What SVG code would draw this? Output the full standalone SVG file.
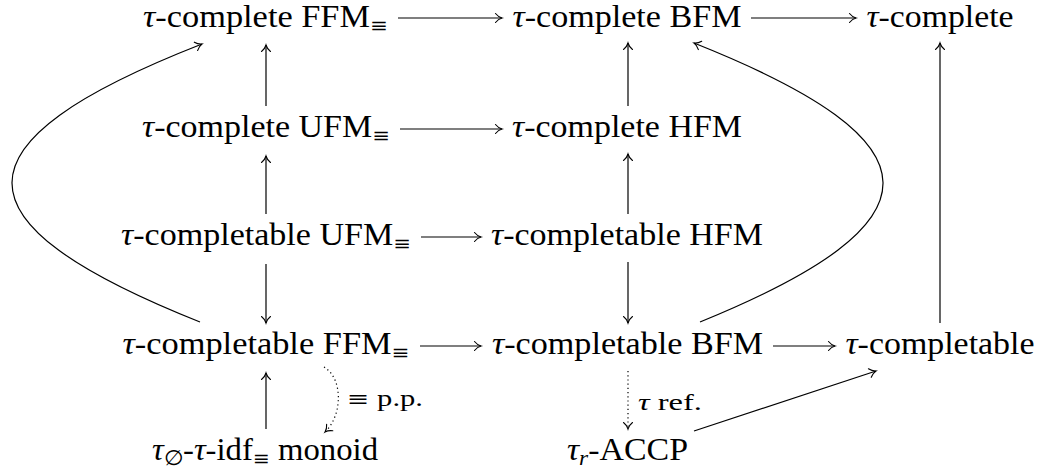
<svg xmlns="http://www.w3.org/2000/svg" width="1041" height="472" viewBox="0 0 1041 472">
<style>
.n{font-family:"Liberation Serif","DejaVu Serif",serif;font-size:30.5px;fill:#000}
.lbl{font-size:24px}
.it{font-style:italic}
.sub{font-size:21px}
.eq{font-family:"DejaVu Serif",serif;font-size:19px}
.c{fill:none;stroke:#000;stroke-width:1.2;marker-end:url(#ah)}
.dot{stroke-dasharray:1.2 3}
</style>
<defs>
<marker id="ah" markerUnits="userSpaceOnUse" viewBox="-8 -6 10 12" refX="0" refY="0" markerWidth="10" markerHeight="12" orient="auto" overflow="visible">
<path d="M-6.5,-4.5 C-4.5,-2 -1.8,-0.5 0,0 C-1.8,0.5 -4.5,2 -6.5,4.5" fill="none" stroke="#000" stroke-width="1.1" stroke-linecap="round" stroke-dasharray="none"/>
</marker>
</defs>
<rect width="1041" height="472" fill="#fff"/>
<g id="connectors">
<path class="c" d="M398,18 L502,18"/>
<path class="c" d="M751,18 L856,18"/>
<path class="c" d="M400,129 L502,129"/>
<path class="c" d="M421,237 L481,237"/>
<path class="c" d="M420,346 L481,346"/>
<path class="c" d="M773,346 L835,346"/>
<path class="c" d="M266,106 L266,45"/>
<path class="c" d="M266,214 L266,156"/>
<path class="c" d="M266,264 L266,323"/>
<path class="c" d="M266,429 L266,373"/>
<path class="c" d="M628,106 L628,43"/>
<path class="c" d="M628,214 L628,154"/>
<path class="c" d="M628,262 L628,323"/>
<path class="c dot" d="M628,371 L628,429"/>
<path class="c" d="M940,323 L940,43"/>
<path class="c" d="M200,322 C-51,222 -51,143 202,44"/>
<path class="c" d="M700,322 C945,222 945,143 694,43"/>
<path class="c dot" d="M324,367 C343,378 343,415 325,432"/>
<path class="c" d="M694,431 L876,371"/>
<text class="n lbl" x="347" y="406" textLength="76" lengthAdjust="spacingAndGlyphs"><tspan class="eq" style="font-size:21px">≡</tspan> p.p.</text>
<text class="n lbl" x="638" y="410" textLength="64" lengthAdjust="spacingAndGlyphs"><tspan class="it">τ</tspan> ref.</text>
</g>
<g id="n-complete-ffm"><text class="n" x="143" y="27" textLength="245" lengthAdjust="spacingAndGlyphs"><tspan class="it">τ</tspan>-complete FFM<tspan class="eq" dy="5">≡</tspan></text></g>
<g id="n-complete-bfm"><text class="n" x="512.5" y="27" textLength="229" lengthAdjust="spacingAndGlyphs"><tspan class="it">τ</tspan>-complete BFM</text></g>
<g id="n-complete"><text class="n" x="866.5" y="27" textLength="147" lengthAdjust="spacingAndGlyphs"><tspan class="it">τ</tspan>-complete</text></g>
<g id="n-complete-ufm"><text class="n" x="142" y="137" textLength="248" lengthAdjust="spacingAndGlyphs"><tspan class="it">τ</tspan>-complete UFM<tspan class="eq" dy="5">≡</tspan></text></g>
<g id="n-complete-hfm"><text class="n" x="512" y="137" textLength="230" lengthAdjust="spacingAndGlyphs"><tspan class="it">τ</tspan>-complete HFM</text></g>
<g id="n-completable-ufm"><text class="n" x="121" y="245" textLength="290" lengthAdjust="spacingAndGlyphs"><tspan class="it">τ</tspan>-completable UFM<tspan class="eq" dy="5">≡</tspan></text></g>
<g id="n-completable-hfm"><text class="n" x="491" y="245" textLength="272" lengthAdjust="spacingAndGlyphs"><tspan class="it">τ</tspan>-completable HFM</text></g>
<g id="n-completable-ffm"><text class="n" x="122.5" y="354" textLength="287" lengthAdjust="spacingAndGlyphs"><tspan class="it">τ</tspan>-completable FFM<tspan class="eq" dy="5">≡</tspan></text></g>
<g id="n-completable-bfm"><text class="n" x="492" y="354" textLength="271" lengthAdjust="spacingAndGlyphs"><tspan class="it">τ</tspan>-completable BFM</text></g>
<g id="n-completable"><text class="n" x="845.5" y="354" textLength="189" lengthAdjust="spacingAndGlyphs"><tspan class="it">τ</tspan>-completable</text></g>
<g id="n-idf-monoid"><text class="n" x="152" y="460" textLength="226" lengthAdjust="spacingAndGlyphs"><tspan class="it">τ</tspan><tspan class="sub" dy="5">∅</tspan><tspan dy="-5">-</tspan><tspan class="it">τ</tspan>-idf<tspan class="eq" dy="5">≡</tspan><tspan dy="-5"> monoid</tspan></text></g>
<g id="n-accp"><text class="n" x="567" y="460" textLength="121" lengthAdjust="spacingAndGlyphs"><tspan class="it">τ</tspan><tspan class="sub it" dy="5">r</tspan><tspan dy="-5">-ACCP</tspan></text></g>
</svg>
